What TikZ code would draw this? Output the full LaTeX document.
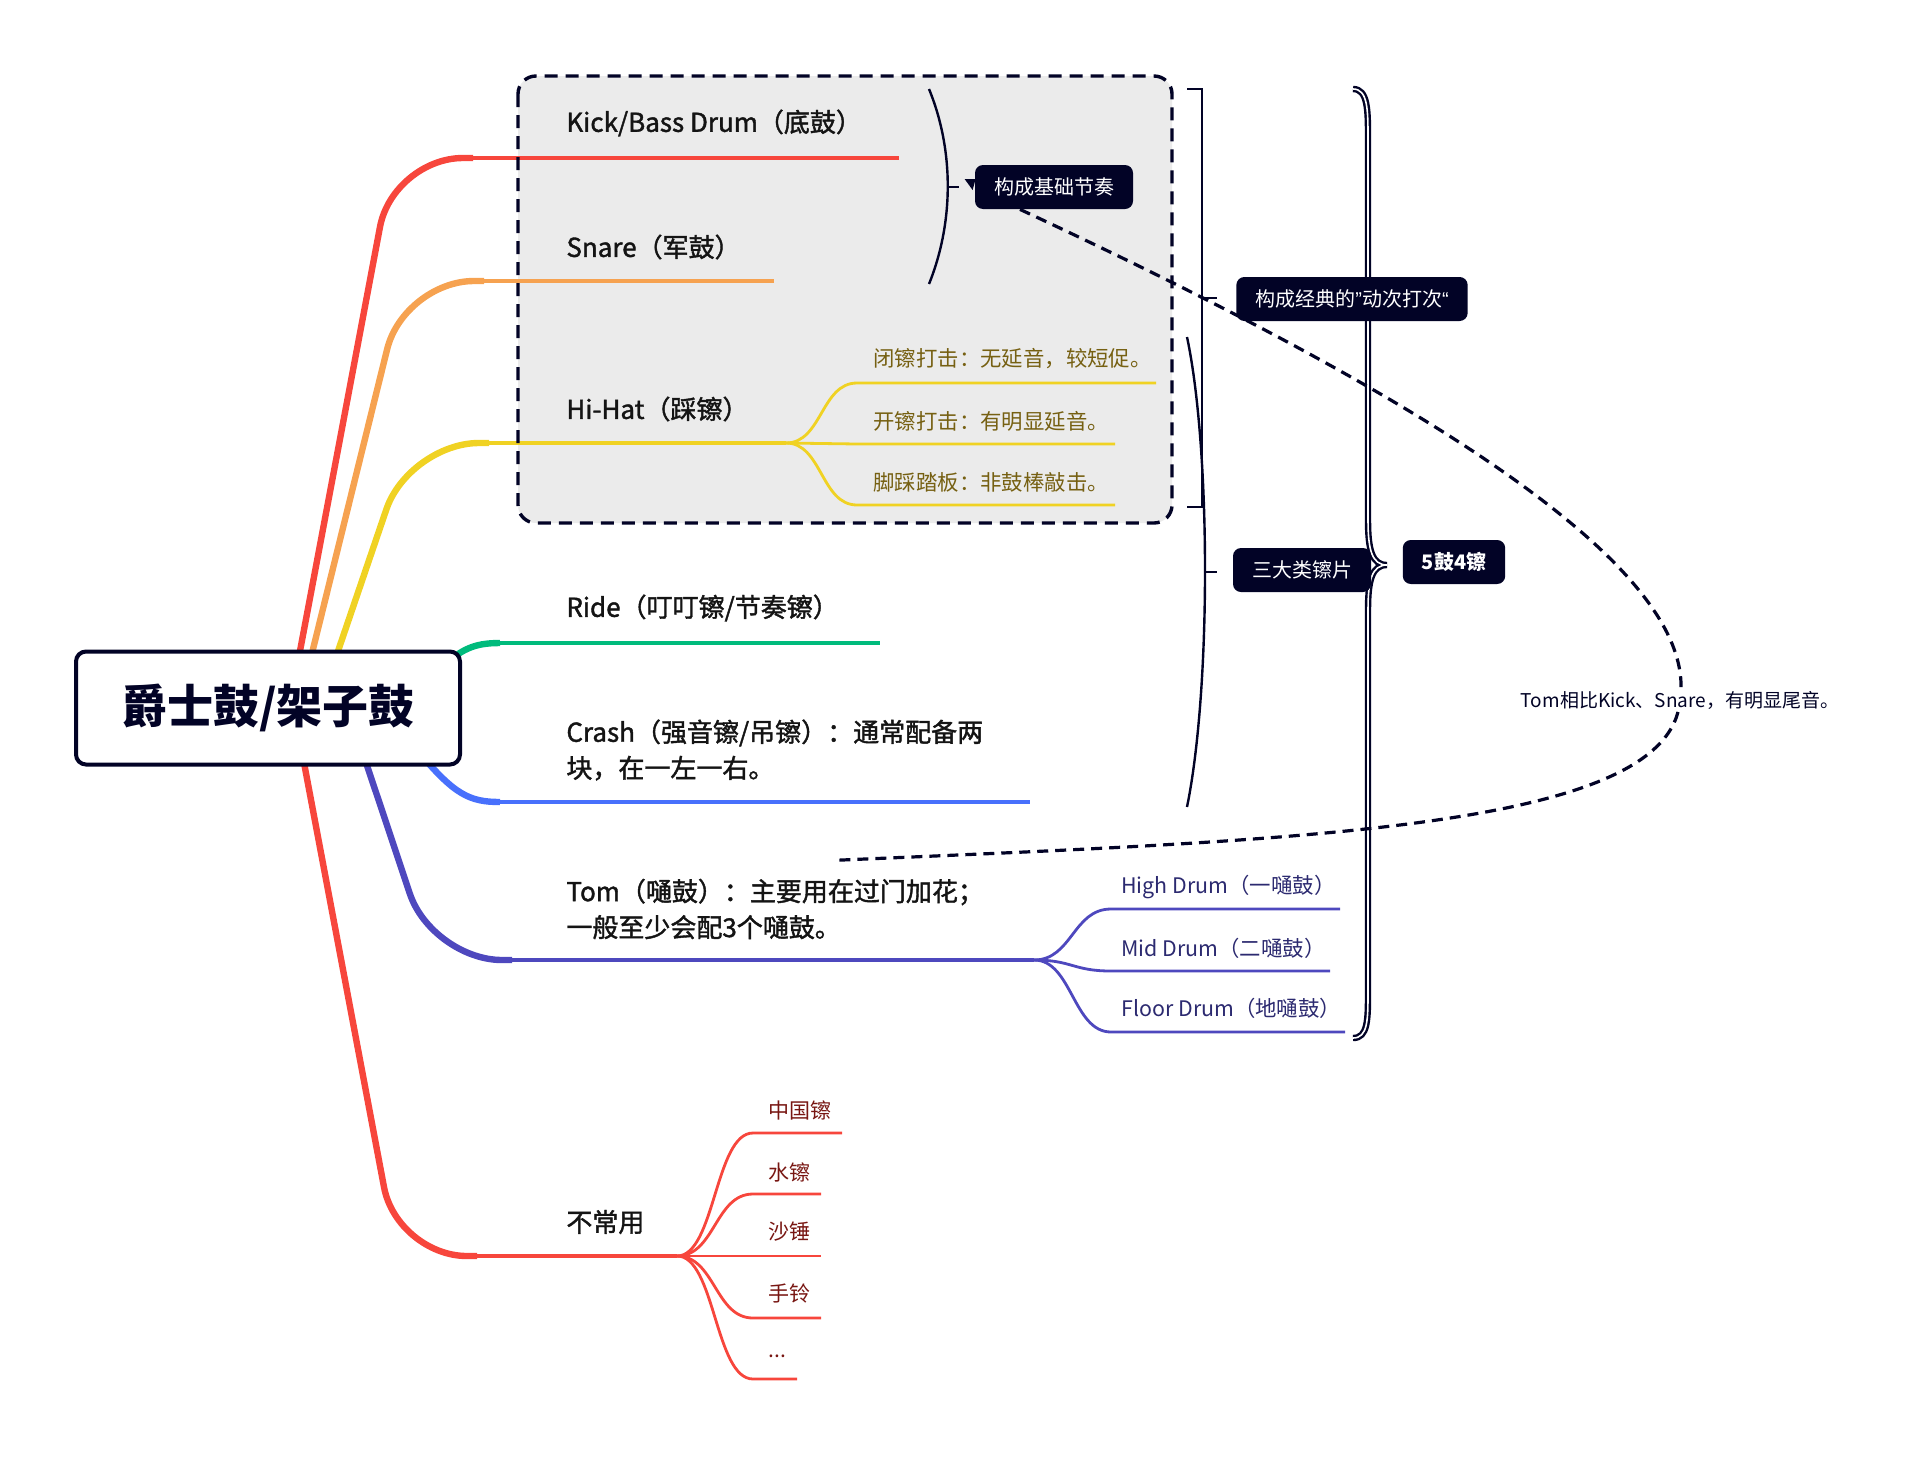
\documentclass[tikz,border=0pt]{standalone}
\usepackage{fontspec}
\setmainfont{Noto Sans CJK SC}
\newfontfamily\labelfont{Noto Sans CJK SC}[FakeBold=1.5]
\newfontfamily\quotefont{Liberation Sans}
\usepackage{tikz}
\usetikzlibrary{positioning, calc, backgrounds}

\definecolor{navy}{RGB}{2,3,38}
\definecolor{kickred}{RGB}{247,70,60}
\definecolor{snareorange}{RGB}{246,162,80}
\definecolor{hatyellow}{RGB}{240,210,35}
\definecolor{ridegreen}{RGB}{0,187,124}
\definecolor{crashblue}{RGB}{72,112,252}
\definecolor{tompurple}{RGB}{78,72,190}
\definecolor{boxgray}{RGB}{235,235,235}
\definecolor{hattext}{RGB}{118,96,18}
\definecolor{tomtext}{RGB}{44,42,112}
\definecolor{raretext}{RGB}{120,22,18}
\definecolor{lbltext}{RGB}{20,20,20}

\tikzset{
  rootbox/.style={draw=navy, line width=2pt, fill=white, rounded corners=5pt, minimum width=192pt, minimum height=56.5pt, text=navy, font=\fontsize{23pt}{28pt}\selectfont\bfseries},
  toplabel/.style={anchor=west, inner sep=0pt, text=lbltext, align=left, font=\labelfont\fontsize{13pt}{18pt}\selectfont},
  leaflabel/.style={anchor=west, inner sep=0pt, font=\fontsize{10.7pt}{13pt}\selectfont},
  rarelabel/.style={leaflabel, text=raretext, font=\fontsize{10.5pt}{13pt}\selectfont},
  sumbox/.style={fill=navy, text=white, rounded corners=4pt, inner xsep=9.5pt, minimum height=22pt, font=\fontsize{10pt}{12pt}\selectfont},
  trunk/.style={line width=3.2pt, rounded corners=35pt},
  stem/.style={line width=2.2pt},
  twig/.style={line width=1.4pt},
  brace/.style={draw=navy, line width=1.2pt},
  relline/.style={draw=navy, line width=1.6pt, dash pattern=on 5.5pt off 3.5pt},
}

\begin{document}
\begin{tikzpicture}[x=0.5pt, y=-0.5pt]
  \useasboundingbox (0,0) rectangle (1915,1456);

  % centre topic
  \node[rootbox] (root) at (268,708) {爵士鼓/架子鼓};

  % main topics
  \node[toplabel] (kick) at (566,123) {Kick/Bass Drum（底鼓）};
  \node[toplabel] (snare) at (566,247) {Snare（军鼓）};
  \node[toplabel] (hihat) at (566,409) {Hi-Hat（踩镲）};
  \node[toplabel] (ride) at (566,608) {Ride（叮叮镲/节奏镲）};
  \node[toplabel] (crash) at (566,750) {Crash（强音镲/吊镲）：通常配备两\\块，在一左一右。};
  \node[toplabel] (tom) at (566,909) {Tom（嗵鼓）：主要用在过门加花；\\一般至少会配3个嗵鼓。};
  \node[toplabel] (rare) at (566,1222) {不常用};

  \coordinate (kickend) at (899,158);
  \coordinate (snareend) at (774,281);
  \coordinate (hatfork) at (786,443);
  \coordinate (rideend) at (880,643);
  \coordinate (crashend) at (1030,802);
  \coordinate (tomfork) at (1034,960);
  \coordinate (rarefork) at (677,1256);

  \begin{pgfonlayer}{background}
    \fill[boxgray, rounded corners=9pt] (518,76) rectangle (1172,523);

    % branches out of the centre
    \draw[trunk, kickred] ($(root.north)+(27,28)$) -- (393,158) -- (473,158);
    \draw[stem, kickred] (473,158) -- (kickend);
    \draw[trunk, snareorange] ($(root.north)+(38,28)$) -- (404,281) -- (484,281);
    \draw[stem, snareorange] (484,281) -- (snareend);
    \draw[trunk, hatyellow] ($(root.north)+(61,28)$) -- (409,443) -- (489,443);
    \draw[stem, hatyellow] (489,443) -- (hatfork);
    \draw[trunk, ridegreen] ($(root.north)+(172,18)$) .. controls (462,650) and (472,643) .. (500,643);
    \draw[stem, ridegreen] (500,643) -- (rideend);
    \draw[trunk, crashblue] ($(root.south)+(152,-13)$) .. controls (455,795) and (470,802) .. (500,802);
    \draw[stem, crashblue] (500,802) -- (crashend);
    \draw[trunk, tompurple] ($(root.south)+(91,-25)$) -- (432,960) -- (512,960);
    \draw[stem, tompurple] (512,960) -- (tomfork);
    \draw[trunk, kickred] ($(root.south)+(32,-25)$) -- (397,1256) -- (477,1256);
    \draw[stem, kickred] (477,1256) -- (rarefork);

    % sub branches
    \foreach \y/\xe in {383/1156, 444/1115, 505/1115}
      \draw[twig, hatyellow] (hatfork) .. controls +(36,0) and +(-36,0) .. (857,\y) -- (\xe,\y);
    \foreach \y/\xe in {909/1340, 971/1330, 1032/1345}
      \draw[twig, tompurple] (tomfork) .. controls +(38,0) and +(-38,0) .. (1111,\y) -- (\xe,\y);
    \foreach \y/\xe in {1133/842, 1194/821, 1256/821, 1318/821, 1379/797}
      \draw[twig, kickred] (rarefork) .. controls +(38,0) and +(-38,0) .. (753,\y) -- (\xe,\y);
  \end{pgfonlayer}

  % dashed group frame
  \draw[navy, line width=1.7pt, dash pattern=on 6.5pt off 4pt, rounded corners=9pt] (518,76) rectangle (1172,523);

  % sub topics
  \foreach \y/\txt [count=\i] in {359/{闭镲打击：无延音，较短促。}, 421/{开镲打击：有明显延音。}, 482/{脚踩踏板：非鼓棒敲击。}}
    \node[leaflabel, text=hattext] (hat\i) at (873,\y) {\txt};
  \foreach \y/\txt [count=\i] in {887/{High Drum（一嗵鼓）}, 948/{Mid Drum（二嗵鼓）}, 1008/{Floor Drum（地嗵鼓）}}
    \node[leaflabel, text=tomtext] (tom\i) at (1121,\y) {\txt};
  \foreach \y/\txt [count=\i] in {1110/中国镲, 1172/水镲, 1232/沙锤, 1293/手铃}
    \node[rarelabel] (rare\i) at (768,\y) {\txt};
  \node[rarelabel] (rare5) at (768,1356) {...};

  % summary braces
  \draw[brace] (929,89) .. controls (954,150) and (954,222) .. (929,284);
  \draw[brace] (947,187) -- (959,187);
  \draw[brace, line width=1.4pt] (1187,89) -- (1202,89) -- (1202,507) -- (1187,507);
  \draw[brace] (1202,298) -- (1217,298);
  \draw[brace] (1187,337) .. controls (1211,450) and (1211,690) .. (1187,807);
  \draw[brace] (1205,572) -- (1217,572);
  \draw[navy, line width=1.2pt, double=white, double distance=0.8pt]
    (1353,89) .. controls (1368,89) and (1368,110) .. (1368,140) -- (1368,520)
    .. controls (1368,550) and (1372,565) .. (1387,565)
    .. controls (1372,565) and (1368,580) .. (1368,610) -- (1368,990)
    .. controls (1368,1020) and (1368,1038) .. (1353,1038);

  % summary topics
  \node[sumbox] (jcjz) at (1054,187) {构成基础节奏};
  \fill[navy] ($(jcjz.west)+(-10,-8)$) -- ++(11,0) -- ++(-3,11) -- cycle;

  % relationship
  \draw[relline] ($(jcjz.south)+(-34,0)$) .. controls (1430,400) and (1700,570) .. (1680,700)
    node[fill=white, inner sep=1pt, text=navy, font=\fontsize{9.5pt}{11pt}\selectfont] (tomnote) {Tom相比Kick、Snare，有明显尾音。}
    .. controls (1670,830) and (1300,840) .. ($(tom.north)+(58,-18)$);

  \node[sumbox] (dongci) at (1352,299) {构成经典的{\quotefont ”}动次打次{\quotefont “}};
  \node[sumbox] (cymbal) at (1302,570) {三大类镲片};
  \node[sumbox, font=\fontsize{10pt}{12pt}\selectfont\bfseries] (total) at (1454,562) {5鼓4镲};
\end{tikzpicture}
\end{document}
